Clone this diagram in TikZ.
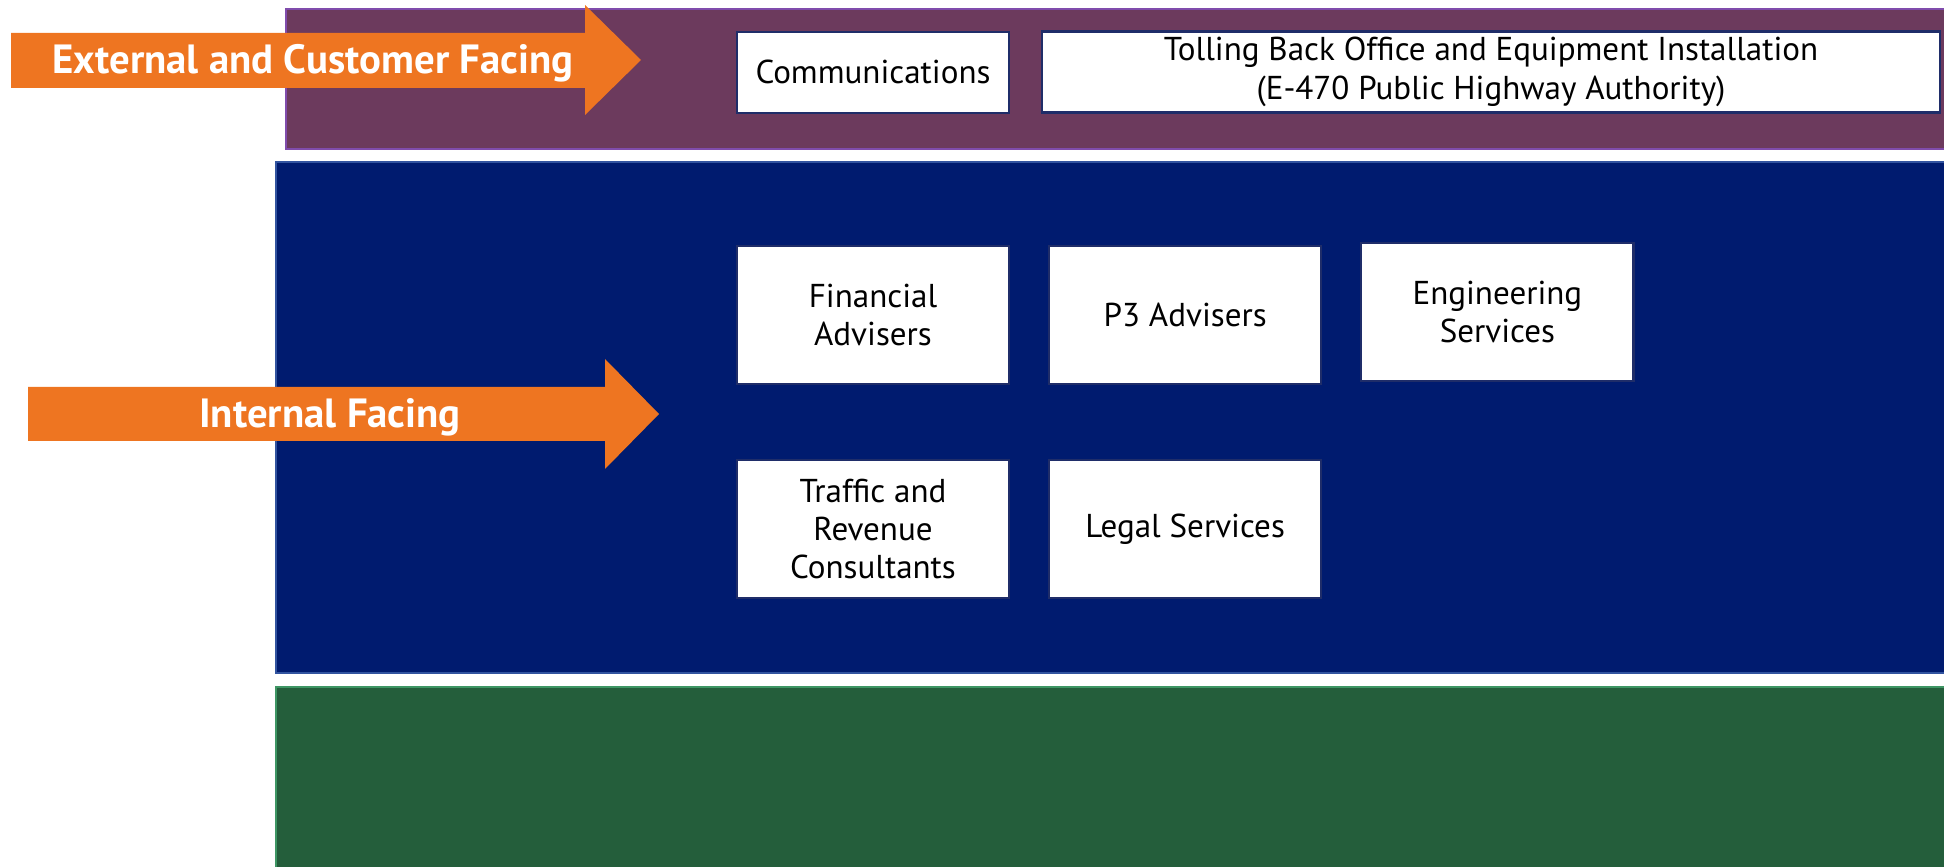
\documentclass[tikz,border=0pt]{standalone}
\usepackage{fontspec}
\setmainfont{PT Sans}
\usepackage{xcolor}
\usepackage{tikz}
\definecolor{extpurple}{RGB}{108,58,93}
\definecolor{extedge}{RGB}{128,76,172}
\definecolor{intblue}{RGB}{0,27,111}
\definecolor{intedge}{RGB}{50,84,160}
\definecolor{opsgreen}{RGB}{36,94,59}
\definecolor{opsedge}{RGB}{62,150,100}
\definecolor{arroworange}{RGB}{238,117,33}
\definecolor{boxedge}{RGB}{31,45,105}

\begin{document}
\begin{tikzpicture}[x=0.01cm, y=-0.01cm, node distance=3.12cm]
\tikzstyle{band}=[line width=0.8pt]
\tikzstyle{svcbox}=[shape=rectangle, draw=boxedge, fill=white, line width=0.6pt,
                    align=center, minimum width=2.72cm, minimum height=1.38cm,
                    font=\fontsize{9.4}{10.9}\selectfont]
\tikzstyle{arrowtext}=[text=white, anchor=base, font=\bfseries\fontsize{11.6}{13}\selectfont]
  \useasboundingbox (0,0) rectangle (1944,867);
  \clip (0,0) rectangle (1944,867);
  % the three bands
  \draw[band, draw=extedge, fill=extpurple] (286,9) rectangle (1960,149);
  \draw[band, draw=intedge, fill=intblue]   (276,162) rectangle (1960,673);
  \draw[band, draw=opsedge, fill=opsgreen]  (276,687) rectangle (1960,890);
  % orange arrows
  \fill[arroworange] (11,33) -- (585,33) -- (585,5) -- (641,60) -- (585,115) -- (585,88) -- (11,88) -- cycle;
  \fill[arroworange] (28,387) -- (605,387) -- (605,359) -- (659,414) -- (605,469) -- (605,441) -- (28,441) -- cycle;
  \node[arrowtext] (ext) at (313,74) {External and Customer Facing};
  \node[arrowtext] (int) at (330,428) {Internal Facing};
  % service boxes
  \node[svcbox] (fin) at (873,315) {Financial\\Advisers};
  \node[svcbox] (p3)  [right of=fin] {P3 Advisers};
  \node[svcbox] (eng) [right of=p3, yshift=0.03cm] {Engineering\\Services};
  \node[svcbox, node distance=2.14cm] (traf) [below of=fin] {Traffic and\\Revenue\\Consultants};
  \node[svcbox] (legal) [right of=traf] {Legal Services};
  \node[svcbox, minimum height=0.81cm, node distance=2.425cm] (comm) [above of=fin] {Communications};
  \node[svcbox, minimum width=8.97cm, minimum height=0.81cm, inner ysep=1pt] (toll) at (1491,72)
        {Tolling Back Office and Equipment Installation\\(E-470 Public Highway Authority)};
\end{tikzpicture}
\end{document}
